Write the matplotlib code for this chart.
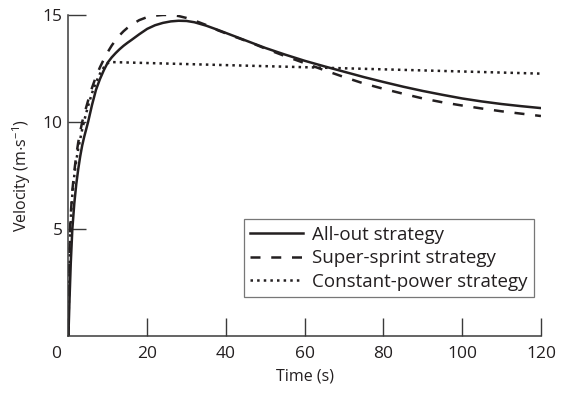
import numpy as np
import matplotlib
matplotlib.use('Agg')
import matplotlib.pyplot as plt
from matplotlib.transforms import ScaledTranslation

plt.rcParams['font.family'] = ['Open Sans', 'DejaVu Sans']
plt.rcParams['mathtext.fontset'] = 'custom'
plt.rcParams['mathtext.rm'] = 'Open Sans'
plt.rcParams['mathtext.default'] = 'regular'

INK = '#231f20'

# All-out strategy
t_allout = [0, 0.3, 0.6, 1, 1.5, 2, 2.5, 3, 3.5, 4, 4.5, 5, 6, 7, 8, 9, 10,
            11, 12, 13, 14, 15, 16, 18, 20, 22, 24, 26, 28, 30, 32, 35, 38,
            42, 46, 50, 55, 60, 65, 70, 75, 80, 85, 90, 95, 100, 105, 110,
            115, 120]
v_allout = [0, 1.8, 3.4, 5.0, 6.2, 7.1, 7.8, 8.4, 8.9, 9.3, 9.65, 10.0, 10.8,
            11.5, 12.0, 12.42, 12.78, 13.02, 13.22, 13.4, 13.56, 13.7, 13.83,
            14.1, 14.35, 14.52, 14.63, 14.7, 14.73, 14.72, 14.66, 14.5, 14.3,
            14.02, 13.74, 13.46, 13.15, 12.86, 12.6, 12.35, 12.1, 11.87,
            11.65, 11.45, 11.27, 11.1, 10.96, 10.84, 10.74, 10.65]

# Super-sprint strategy
t_sprint = [0, 0.15, 0.3, 0.5, 1, 1.5, 2, 2.5, 3, 3.5, 4, 5, 6, 7, 8, 9, 10,
            11, 12, 13, 14, 15, 16, 18, 20, 22, 24, 26, 28, 30, 32, 35, 38,
            42, 46, 50, 55, 60, 65, 70, 75, 80, 85, 90, 95, 100, 105, 110,
            115, 120]
v_sprint = [0, 2.5, 4.2, 5.4, 6.8, 7.7, 8.45, 9.05, 9.55, 10.0, 10.35, 11.0,
            11.6, 12.12, 12.55, 12.93, 13.27, 13.57, 13.83, 14.05, 14.24,
            14.4, 14.54, 14.76, 14.9, 14.97, 15.0, 15.0, 14.95, 14.86, 14.74,
            14.53, 14.28, 14.0, 13.73, 13.43, 13.08, 12.75, 12.42, 12.1,
            11.8, 11.55, 11.32, 11.1, 10.92, 10.77, 10.63, 10.5, 10.39, 10.28]

# Constant-power strategy
t_const = [0, 0.2, 0.4, 0.7, 1, 1.5, 2, 2.5, 3, 3.5, 4, 5, 6, 7, 8, 9, 10,
           10.8, 60, 120]
v_const = [0, 2.5, 4.6, 5.8, 6.6, 7.5, 8.2, 8.75, 9.2, 9.65, 10.05, 10.75,
           11.35, 11.85, 12.25, 12.55, 12.75, 12.8, 12.56, 12.26]

x_ticks = [0, 20, 40, 60, 80, 100, 120]
y_ticks = [5, 10, 15]

fig = plt.figure(figsize=(5.70, 3.94), dpi=100)
ax = fig.add_axes([0.120, 0.147, 0.829, 0.815])

lw = 1.8
ax.plot(t_allout, v_allout, color=INK, lw=lw, ls='-', label='All-out strategy')
ax.plot(t_sprint, v_sprint, color=INK, lw=lw, ls=(0, (4, 4.3)),
        label='Super-sprint strategy')
ax.plot(t_const, v_const, color=INK, lw=lw, ls=':',
        label='Constant-power strategy')

ax.set_xlim(0, 120)
ax.set_ylim(0, 15)
ax.set_xticks(x_ticks)
ax.set_yticks(y_ticks)

for side in ['top', 'right']:
    ax.spines[side].set_visible(False)
for side in ['left', 'bottom']:
    ax.spines[side].set_linewidth(1.1)
    ax.spines[side].set_color('#3a3a3a')

ax.tick_params(axis='both', direction='in', length=13, width=1.0,
               color='#3a3a3a', labelsize=12.5, labelcolor=INK)
ax.tick_params(axis='x', pad=7)
ax.tick_params(axis='y', pad=4)

# the "0" sits a little left of the corner
lab0 = ax.get_xticklabels()[0]
lab0.set_transform(lab0.get_transform() +
                   ScaledTranslation(-12 / 100, 0, fig.dpi_scale_trans))

ax.set_xlabel('Time (s)', fontsize=11.5, color=INK, labelpad=5)
ax.set_ylabel(r'Velocity (m$\cdot$s$^{-1}$)', fontsize=11.5, color=INK,
              labelpad=7)

leg = ax.legend(loc='lower right', bbox_to_anchor=(0.985, 0.1215),
                fontsize=13.5, frameon=True, fancybox=False,
                handlelength=2.8, handletextpad=0.5, borderpad=0.33,
                labelspacing=0.3, borderaxespad=0)
leg.get_frame().set_edgecolor('#555555')
leg.get_frame().set_linewidth(0.9)
for txt in leg.get_texts():
    txt.set_color(INK)

fig.savefig('out.png', dpi=100)
